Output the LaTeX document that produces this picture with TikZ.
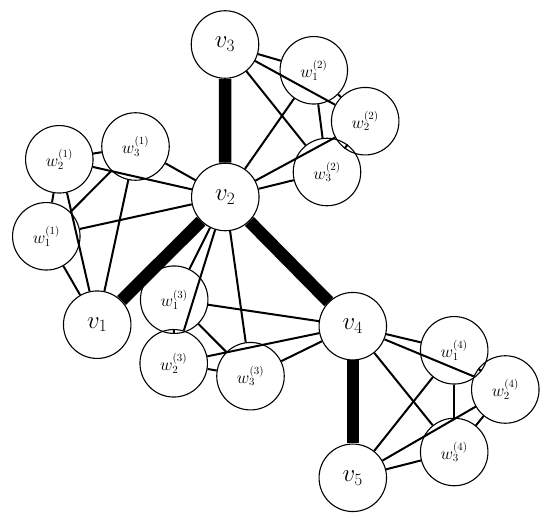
\documentclass[tikz,border=0pt]{standalone}
\begin{document}
\begin{tikzpicture}[x=1pt,y=-1pt,
  vn/.style={circle,draw,line width=1.1pt,minimum size=67.5pt,inner sep=0pt,font=\fontsize{24}{28}\selectfont},
  wn/.style={circle,draw,line width=1.1pt,minimum size=67.5pt,inner sep=0pt,font=\fontsize{16}{19}\selectfont},
  ln/.style={line width=2pt},
  bold/.style={line width=12.5pt}]
\useasboundingbox (0,0) rectangle (550,518);
% main vertices
\node[vn] (v3) at (225,44.5) {$v_3$};
\node[vn] (v2) at (225.3,197) {$v_2$};
\node[vn] (v1) at (97.2,324.7) {$v_1$};
\node[vn] (v4) at (352.8,326.2) {$v_4$};
\node[vn] (v5) at (352.8,477.8) {$v_5$};
% gadget 1
\node[wn] (a1) at (46.3,236.3) {$w_1^{(1)}$};
\node[wn] (a2) at (59.3,159.3) {$w_2^{(1)}$};
\node[wn] (a3) at (135.5,146.5) {$w_3^{(1)}$};
% gadget 2
\node[wn] (b1) at (313.8,70.3) {$w_1^{(2)}$};
\node[wn] (b2) at (365.2,121.2) {$w_2^{(2)}$};
\node[wn] (b3) at (327,172) {$w_3^{(2)}$};
% gadget 3
\node[wn] (c1) at (174.2,299.7) {$w_1^{(3)}$};
\node[wn] (c2) at (173.7,363.3) {$w_2^{(3)}$};
\node[wn] (c3) at (250.5,376.2) {$w_3^{(3)}$};
% gadget 4
\node[wn] (d1) at (454.2,350.3) {$w_1^{(4)}$};
\node[wn] (d2) at (505.3,389.5) {$w_2^{(4)}$};
\node[wn] (d3) at (454.2,452) {$w_3^{(4)}$};
% thick edges
\draw[bold] (v3) -- (v2);
\draw[bold] (v2) -- (v1);
\draw[bold] (v2) -- (v4);
\draw[bold] (v4) -- (v5);
% gadget edges
\foreach \g/\p/\q in {a/v1/v2, b/v3/v2, c/v2/v4, d/v4/v5}{
  \draw[ln] (\g1) -- (\g2);
  \draw[ln] (\g2) -- (\g3);
  \draw[ln] (\g1) -- (\g3);
  \foreach \i in {1,2,3}{
    \draw[ln] (\g\i) -- (\p);
    \draw[ln] (\g\i) -- (\q);
  }
}
\end{tikzpicture}
\end{document}
